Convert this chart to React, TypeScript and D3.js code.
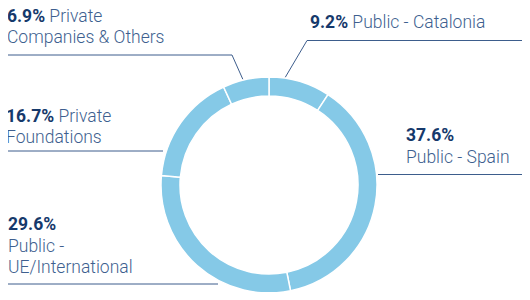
import React from "react";
import * as d3 from "d3";

const categories = [
  "Public - Catalonia",
  "Public - Spain",
  "Public - UE/International",
  "Private Foundations",
  "Private Companies & Others",
];
const values = [9.2, 37.6, 29.6, 16.7, 6.9];
const percentLabels = ["9.2%", "37.6%", "29.6%", "16.7%", "6.9%"];

const W = 530;
const H = 300;
const cx = 269;
const cy = 185;
const outerR = 108;
const innerR = 89;

const BOLD = "#16396b";
const LIGHT = "#3e5f8f";
const LINE = "#3d5d8c";

export default function App() {
  const pie = d3
    .pie<number>()
    .sort(null)
    .value((d) => d)
    .startAngle(0)
    .endAngle(2 * Math.PI);
  const arcs = pie(values);
  const arcGen = d3.arc<d3.PieArcDatum<number>>().innerRadius(innerR).outerRadius(outerR);

  const font = "Roboto, 'Open Sans', sans-serif";
  const fs = 17.5;

  const edge = (i: number, f: number, r: number) => {
    const a = arcs[i].startAngle + (arcs[i].endAngle - arcs[i].startAngle) * f;
    return [cx + r * Math.sin(a), cy - r * Math.cos(a)];
  };

  const cat = edge(0, 0.26, outerR + 1);
  const comp = edge(4, 0.44, outerR + 1);

  return (
    <div style={{ margin: -8 }}>
      <svg width={W} height={H} style={{ display: "block" }} fontFamily={font}>
        <rect width={W} height={H} fill="#fff" />
        <g transform={`translate(${cx},${cy})`}>
          {arcs.map((a, i) => (
            <path key={i} d={arcGen(a) || ""} fill="#85c9e7" stroke="#fff" strokeWidth={1.5} />
          ))}
        </g>

        <g fill="none" stroke={LINE} strokeWidth={1}>
          <polyline points={`6,55 232,55 ${comp[0]},${comp[1]}`} />
          <polyline points={`${cat[0]},${cat[1]} 307,40.5 527,40.5`} />
          <polyline points={`378,174.5 527,174.5`} />
          <polyline points={`6,151 163,151`} />
          <polyline points={`8,284 218,284`} />
        </g>

        <g fontSize={fs}>
          <text x={7} y={22}>
            <tspan fill={BOLD} fontWeight={700}>{percentLabels[4]}</tspan>
            <tspan fill={LIGHT} fontWeight={300}> Private</tspan>
          </text>
          <text x={7} y={43} fill={LIGHT} fontWeight={300}>Companies &amp; Others</text>

          <text x={310} y={28}>
            <tspan fill={BOLD} fontWeight={700}>{percentLabels[0]}</tspan>
            <tspan fill={LIGHT} fontWeight={300}> {categories[0]}</tspan>
          </text>

          <text x={406} y={141} fill={BOLD} fontWeight={700}>{percentLabels[1]}</text>
          <text x={406} y={163} fill={LIGHT} fontWeight={300}>{categories[1]}</text>

          <text x={6} y={122}>
            <tspan fill={BOLD} fontWeight={700}>{percentLabels[3]}</tspan>
            <tspan fill={LIGHT} fontWeight={300}> Private</tspan>
          </text>
          <text x={6} y={143} fill={LIGHT} fontWeight={300}>Foundations</text>

          <text x={8} y={230} fill={BOLD} fontWeight={700}>{percentLabels[2]}</text>
          <text x={8} y={252} fill={LIGHT} fontWeight={300}>Public -</text>
          <text x={8} y={273} fill={LIGHT} fontWeight={300}>UE/International</text>
        </g>
      </svg>
    </div>
  );
}
